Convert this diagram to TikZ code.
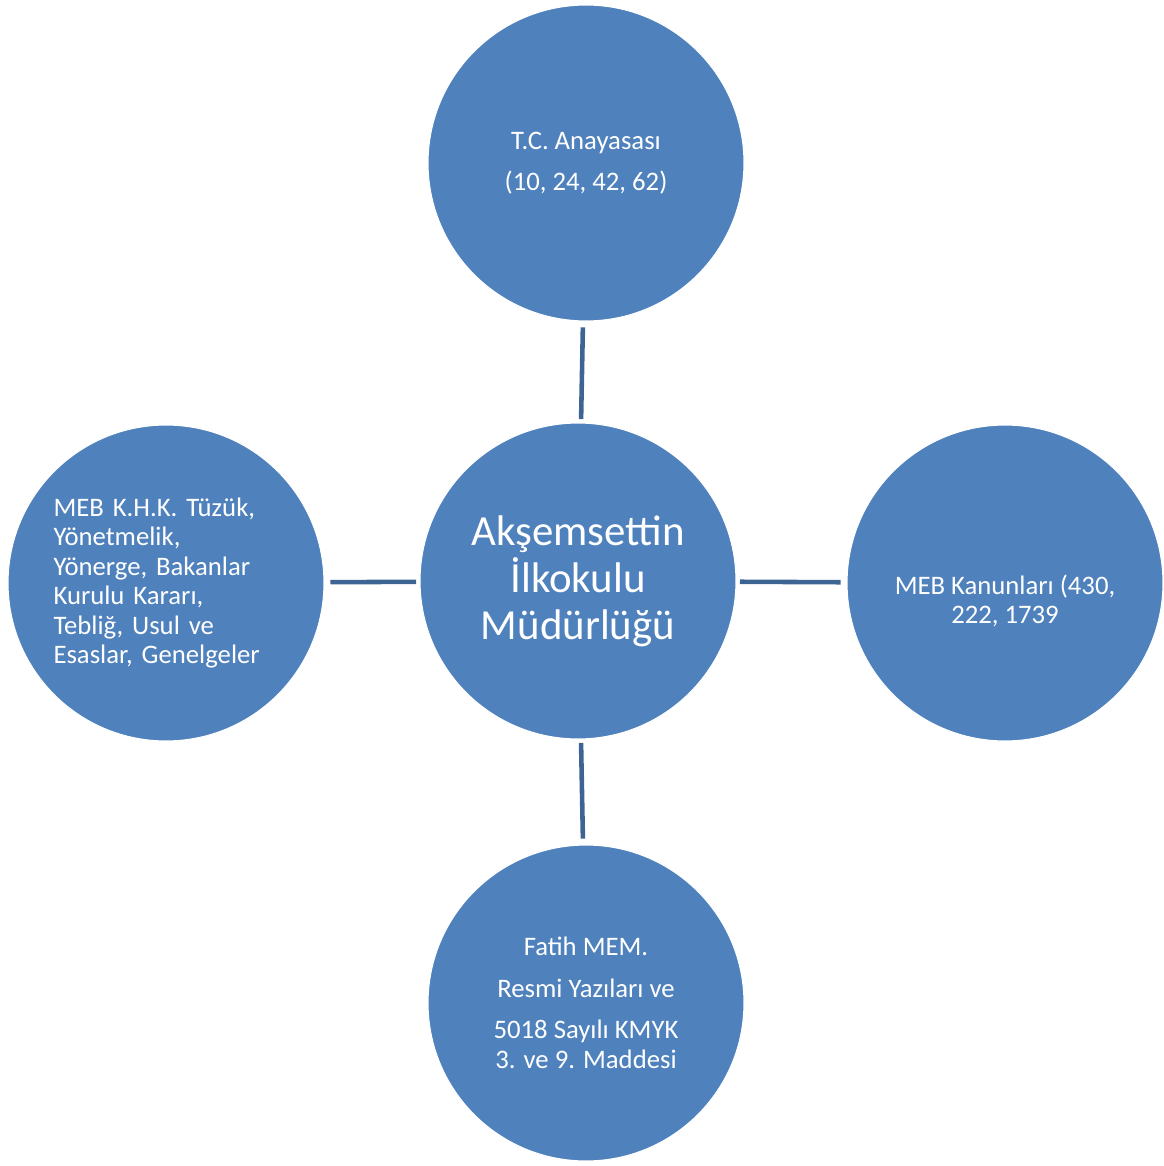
\documentclass[tikz,border=0pt]{standalone}
\usepackage{fontspec}
\setmainfont{Carlito}
\usepackage{xcolor}
\usetikzlibrary{positioning, calc}

\definecolor{circblue}{RGB}{79,129,189}
\definecolor{linkblue}{RGB}{62,100,148}

\begin{document}
\begin{tikzpicture}[
    x=0.02cm, y=-0.02cm,
    topic/.style={draw=white, line width=0.6pt, circle, fill=circblue, minimum size=6.32cm, inner sep=0pt, align=center, text=white, font=\fontsize{15.2}{16.8}\selectfont},
    hub/.style={topic, font=\fontsize{24.4}{26.8}\selectfont},
    link/.style={draw=linkblue, line width=2.6pt, shorten <=0.07cm, shorten >=0.12cm}
]
    \useasboundingbox (0,0) rectangle (1163,1166);

    % ================= CENTER =================
    \node[hub] (OKUL) at (578,581) {Akşemsettin\\İlkokulu\\Müdürlüğü};

    % ================= SOURCES =================
    \node[topic] (ANAY) at (586,163) {T.C. Anayasası\\[0.24cm](10, 24, 42, 62)};
    \node[topic, label={[yshift=-0.36cm, text=white, align=center, font=\fontsize{15.2}{16.8}\selectfont]center:MEB Kanunları (430,\\222, 1739}] (KANUN) at (1005,583) {};
    \node[topic, text width=4.5cm, align=left] (TUZUK) at (166,583) {MEB K.H.K. Tüzük,\\Yönetmelik,\\Yönerge, Bakanlar\\Kurulu Kararı,\\Tebliğ, Usul ve\\Esaslar, Genelgeler};
    \node[topic] (MEM) at (586,1003) {Fatih MEM.\\[0.24cm]Resmi Yazıları ve\\[0.24cm]5018 Sayılı KMYK\\3. ve 9. Maddesi};

    % ================= CONNECTIONS =================
    \draw[link] (OKUL) -- (ANAY);
    \draw[link] (OKUL) -- (TUZUK);
    \draw[link] (OKUL) -- (KANUN);
    \draw[link] (OKUL) -- (MEM);

\end{tikzpicture}
\end{document}
